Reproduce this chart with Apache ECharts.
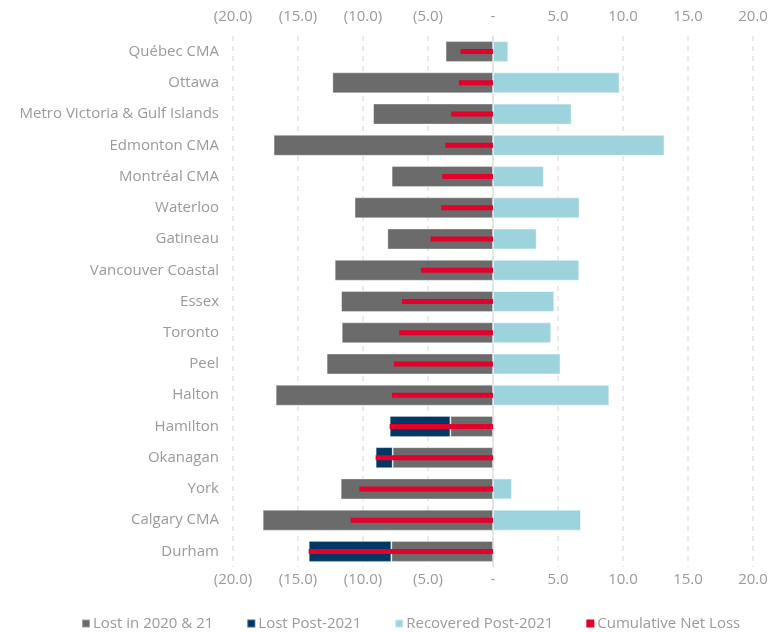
<!DOCTYPE html>
<html>
<head>
<meta charset="utf-8">
<script src="https://cdn.jsdelivr.net/npm/echarts@6/dist/echarts.min.js"></script>
<style>
  html, body { margin: 0; padding: 0; background: #fff; }
  #chart { width: 781px; height: 632px; }
</style>
</head>
<body>
<div id="chart"></div>
<script>
// Regions, top to bottom
const regions = [
  'Québec CMA', 'Ottawa', 'Metro Victoria & Gulf Islands', 'Edmonton CMA',
  'Montréal CMA', 'Waterloo', 'Gatineau', 'Vancouver Coastal', 'Essex',
  'Toronto', 'Peel', 'Halton', 'Hamilton', 'Okanagan', 'York',
  'Calgary CMA', 'Durham'
];

// Values (thousands)
const lostIn2020And21 = [-3.65, -12.36, -9.23, -16.88, -7.80, -10.65, -8.13, -12.18, -11.69, -11.64, -12.80, -16.72, -3.28, -7.72, -11.72, -17.72, -7.82];
const lostPost2021    = [0, 0, 0, 0, 0, 0, 0, 0, 0, 0, 0, 0, -4.67, -1.31, 0, 0, -6.36];
const recoveredPost2021 = [1.18, 9.74, 6.05, 13.20, 3.92, 6.66, 3.36, 6.64, 4.72, 4.48, 5.20, 8.95, 0, 0, 1.46, 6.77, 0];
const cumulativeNetLoss = [-2.49, -2.62, -3.21, -3.67, -3.90, -3.98, -4.80, -5.54, -7.00, -7.21, -7.62, -7.77, -7.95, -9.03, -10.28, -10.95, -14.18];

// Axis ticks
const axisMin = -20;
const axisMax = 20;
const axisStep = 5;

const FONT = 'Open Sans';
const TEXT_GRAY = '#9a9a9a';

function fmtTick(v) {
  if (v === 0) return '-';
  if (v < 0) return '(' + Math.abs(v).toFixed(1) + ')';
  return v.toFixed(1);
}

const valueAxisBase = {
  type: 'value',
  min: axisMin,
  max: axisMax,
  interval: axisStep,
  axisLine: { show: false },
  axisTick: { show: false },
  axisLabel: {
    formatter: fmtTick,
    color: TEXT_GRAY,
    fontFamily: FONT,
    fontSize: 15
  }
};

const chart = echarts.init(document.getElementById('chart'), null, { renderer: 'canvas' });

chart.setOption({
  animation: false,
  backgroundColor: '#ffffff',
  grid: { left: 233, right: 28, top: 36, bottom: 65, containLabel: false },
  legend: {
    top: 611,
    left: 76,
    icon: 'rect',
    itemWidth: 8,
    itemHeight: 8,
    itemGap: 33,
    textStyle: { color: TEXT_GRAY, fontFamily: FONT, fontSize: 15, padding: [0, 0, 0, -2] },
    data: ['Lost in 2020 & 21', 'Lost Post-2021', 'Recovered Post-2021', 'Cumulative Net Loss']
  },
  xAxis: [
    Object.assign({}, valueAxisBase, {
      position: 'bottom',
      axisLabel: Object.assign({}, valueAxisBase.axisLabel, { margin: 5 }),
      splitLine: { show: true, lineStyle: { color: '#e3e3e3', type: [5, 5], width: 1.5 } }
    }),
    Object.assign({}, valueAxisBase, {
      position: 'top',
      axisLabel: Object.assign({}, valueAxisBase.axisLabel, { margin: 12 }),
      splitLine: { show: false }
    })
  ],
  yAxis: [
    {
      type: 'category',
      data: regions,
      inverse: true,
      axisLine: { show: true, onZero: true, lineStyle: { color: '#e0e0e0', width: 1.5 } },
      axisTick: { show: false },
      axisLabel: { color: TEXT_GRAY, fontFamily: FONT, fontSize: 15, margin: 14 }
    },
    {
      type: 'category',
      data: regions,
      inverse: true,
      show: false
    }
  ],
  series: [
    {
      name: 'Lost in 2020 & 21',
      type: 'bar',
      stack: 'jobs',
      barWidth: 21,
      data: lostIn2020And21,
      itemStyle: { color: '#6a6b6a', borderColor: 'rgba(255,255,255,0.35)', borderWidth: 1 }
    },
    {
      name: 'Lost Post-2021',
      type: 'bar',
      stack: 'jobs',
      barWidth: 21,
      data: lostPost2021,
      itemStyle: { color: '#003764', borderColor: 'rgba(255,255,255,0.25)', borderWidth: 1 }
    },
    {
      name: 'Recovered Post-2021',
      type: 'bar',
      stack: 'jobs',
      barWidth: 21,
      data: recoveredPost2021,
      itemStyle: { color: '#9dd3dc', borderColor: 'rgba(255,255,255,0.5)', borderWidth: 1 }
    },
    {
      name: 'Cumulative Net Loss',
      type: 'bar',
      yAxisIndex: 1,
      barWidth: 5,
      data: cumulativeNetLoss,
      itemStyle: { color: '#e4002b' },
      z: 5
    }
  ]
});
</script>
</body>
</html>
